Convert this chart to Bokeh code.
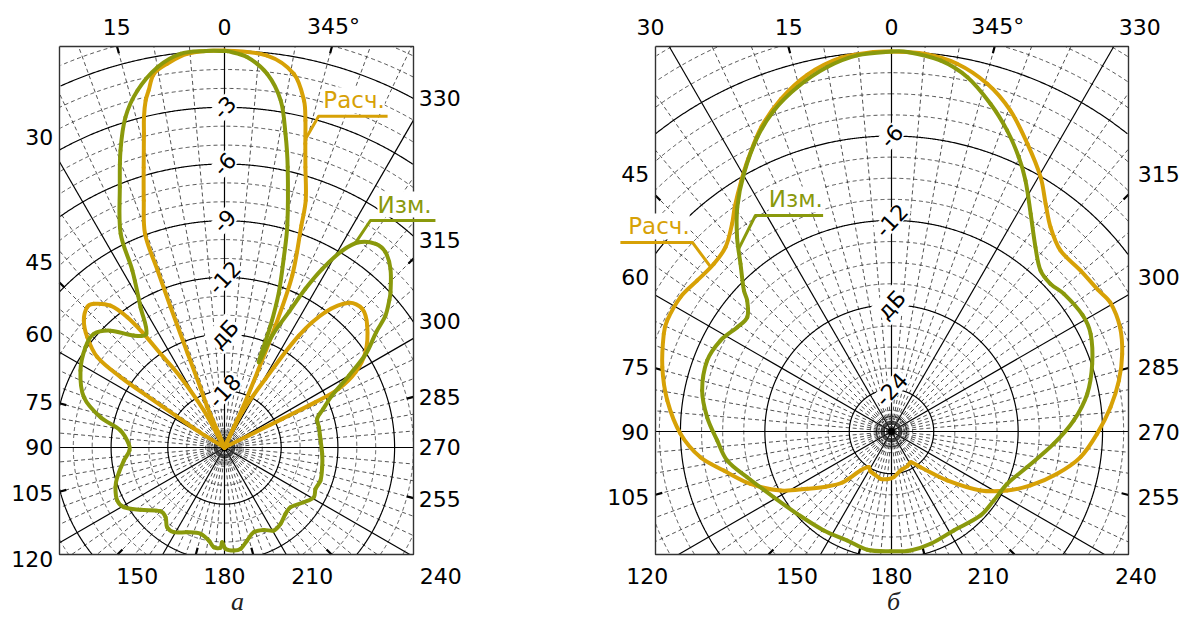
import numpy as np
from bokeh.plotting import figure
from bokeh.layouts import row
from bokeh.models import Range1d
from bokeh.core.properties import value
from bokeh.embed import file_html
from bokeh.resources import INLINE

ORANGE = "#D7A106"
OLIVE = "#8A990C"
FONT = "DejaVu Sans"

# ---------------- panel а : angle (deg, counter-clockwise from 0 at top), level (dB)
calc_a_deg = [0, 5.4, 8.5, 10.7, 12.0, 12.8, 13.7, 14.4, 16.1, 18.1, 20.4, 20.7, 21.0, 21.4,
              21.9, 23.0, 25.5, 29.2, 32.0, 34.3, 35.4, 36.7, 38.8, 42.3, 44.4, 47.9, 51.2,
              54.6, 55.9, 56.4, 57.0, 58.5, 60.0, 90, 120, 150, 180, 210, 240, 270, 295.5,
              296.3, 296.4, 296.5, 297.2, 299.9, 304.1, 310.5, 315.2, 319.3, 323.3, 326.4,
              329.2, 333.4, 334.5, 335.4, 336.5, 337.3, 338.5, 340.9, 341.8, 343.9, 345.1,
              346.1, 347.1, 349.5, 353.8, 360]
calc_a_db = [0.0, -0.07, -0.47, -0.88, -1.69, -2.17, -3.01, -3.86, -5.58, -7.25, -8.94, -10.98,
             -13.05, -15.67, -17.57, -18.68, -21.0, -18.76, -16.6, -15.0, -13.62, -12.4, -11.37,
             -10.72, -10.61, -10.97, -11.68, -12.74, -14.36, -16.26, -18.0, -19.5, -21.0, -21.0,
             -21.0, -21.0, -21.0, -21.0, -21.0, -21.0, -21.0, -19.57, -17.59, -15.62, -14.2,
             -13.0, -11.99, -11.07, -10.66, -10.9, -12.07, -13.89, -16.77, -18.9, -21.0, -18.75,
             -16.46, -14.0, -11.22, -8.57, -7.24, -5.56, -4.37, -3.18, -2.16, -0.89, -0.14, 0.0]

meas_a_deg = [0, 2.7, 6.4, 10.0, 13.7, 16.7, 19.3, 21.9, 25.9, 27.5, 30.9, 34.5, 39.0, 44.3,
              49.0, 54.2, 61.9, 70.3, 76.3, 80.7, 87.8, 91.8, 97.4, 105.5, 110.0, 116.3, 120.7,
              126.6, 134.9, 139.8, 144.3, 149.1, 156.2, 164.5, 170.4, 173.9, 177.7, 178.6,
              180.6, 185.2, 189.0, 193.7, 199.1, 205.5, 210.7, 216.3, 222.6, 227.9, 235.4,
              240.9, 245.6, 251.0, 258.6, 266.3, 274.2, 282.1, 287.2, 291.3, 295.7, 300.0,
              303.6, 307.3, 309.3, 311.8, 313.1, 317.1, 320.5, 323.4, 326.8, 329.1, 331.3,
              333.0, 334.6, 336.9, 338.1, 339.3, 340.7, 342.6, 344.2, 347.3, 349.0, 350.8,
              353.5, 356.7, 359.6, 360]
meas_a_db = [-0.02, 0.0, -0.04, -0.57, -1.56, -2.76, -4.35, -6.15, -8.42, -10.44, -12.35, -13.7,
             -13.38, -12.36, -11.84, -11.93, -12.36, -13.1, -14.25, -15.42, -15.93, -15.97,
             -15.63, -15.11, -14.86, -14.67, -14.81, -15.47, -16.22, -16.17, -15.8, -15.78,
             -16.1, -16.26, -16.01, -15.69, -15.69, -15.99, -15.64, -15.53, -15.57, -15.94,
             -16.26, -16.17, -15.89, -15.99, -16.23, -16.29, -15.9, -15.59, -15.71, -15.63,
             -15.73, -15.82, -15.9, -15.89, -15.87, -15.4, -14.7, -13.4, -12.0, -10.9, -10.0,
             -9.3, -8.97, -8.1, -7.61, -7.58, -8.02, -8.86, -10.22, -11.57, -13.07, -14.56,
             -16.14, -14.1, -12.3, -10.53, -8.79, -5.79, -4.09, -2.4, -1.1, -0.31, -0.03, -0.02]

# ---------------- panel б
calc_b_deg = [0, 2.7, 7.8, 13.3, 18.4, 23.1, 27.7, 31.0, 34.8, 37.5, 42.0, 46.7, 52.2, 57.5,
              63.7, 66.8, 74.3, 82.1, 90.6, 97.7, 103.1, 110.4, 118.0, 124.2, 130.0, 136.1,
              141.5, 147.5, 152.0, 157.3, 166.9, 175.0, 182.9, 193.0, 205.0, 211.8, 219.1,
              228.7, 236.5, 243.0, 248.8, 255.7, 262.3, 269.4, 276.3, 282.6, 288.6, 294.5,
              300.5, 304.4, 310.4, 317.0, 322.1, 325.9, 329.6, 334.7, 339.7, 344.6, 349.9,
              355.1, 360]
calc_b_db = [0.0, 0.0, -0.2, -0.95, -2.1, -3.45, -5.1, -6.25, -7.5, -8.39, -9.37, -9.64, -9.51,
             -9.22, -9.21, -9.39, -10.08, -10.91, -12.0, -13.3, -14.76, -16.31, -18.07, -19.76,
             -20.9, -21.97, -23.46, -24.0, -23.8, -23.74, -23.55, -23.6, -23.75, -24.16, -24.3,
             -24.43, -23.73, -21.73, -19.41, -17.77, -16.4, -14.85, -13.44, -12.38, -11.34,
             -10.44, -9.7, -9.15, -8.95, -9.2, -9.35, -9.4, -8.6, -7.46, -6.05, -4.39, -2.67,
             -1.37, -0.45, -0.06, 0.0]

meas_b_deg = [0, 5.2, 10.0, 15.3, 20.1, 24.5, 29.8, 34.5, 38.5, 42.0, 46.3, 47.8, 51.6, 55.9,
              62.0, 69.0, 77.8, 85.6, 93.0, 100.0, 107.6, 119.2, 131.1, 145.6, 157.9, 168.4,
              179.5, 189.1, 199.2, 212.2, 226.7, 236.0, 245.7, 255.3, 265.7, 273.5, 280.9,
              288.6, 296.1, 301.4, 308.6, 312.9, 317.2, 322.0, 327.4, 331.9, 335.1, 339.0,
              343.2, 347.9, 352.5, 357.6, 360]
meas_b_db = [0.0, -0.16, -0.7, -1.63, -2.7, -4.01, -5.89, -7.65, -9.37, -10.96, -12.49, -13.15,
             -13.92, -13.77, -13.23, -12.96, -13.23, -13.86, -14.6, -15.14, -16.24, -17.42,
             -18.1, -18.48, -18.64, -18.42, -18.49, -18.44, -18.55, -18.69, -18.3, -18.23,
             -17.97, -17.03, -15.43, -14.02, -12.83, -11.95, -11.24, -11.1, -11.32, -11.58,
             -11.41, -10.38, -8.64, -6.78, -5.51, -4.08, -2.67, -1.25, -0.4, 0.0, 0.0]

# ---------------- tick labels
a_top_labels = ["15", "0", "345°"]
a_left_labels = ["30", "45", "60", "75", "90", "105", "120"]
a_right_labels = ["330", "315", "300", "285", "270", "255"]
a_bottom_labels = ["150", "180", "210", "240"]
a_radial_labels = ["-3", "-6", "-9", "-12", "дБ", "-18"]
a_radial_levels = [-3, -6, -9, -12, -15, -18]

b_top_labels = ["30", "15", "0", "345°", "330"]
b_left_labels = ["45", "60", "75", "90", "105"]
b_right_labels = ["315", "300", "285", "270", "255"]
b_bottom_labels = ["120", "150", "180", "210", "240"]
b_radial_labels = ["-6", "-12", "дБ", "-24"]
b_radial_levels = [-6, -12, -18, -24]

# ---------------- layout of each panel (pixels inside its own figure)
panel_a = dict(size=(590, 617), center=(224, 447), px_per_db=18.9, floor=-21.0,
               frame=(59, 46, 413, 554), major=3.0, minor=1.0,
               top=([116.3, 224, 333], 26.3), left=(52.7, [136, 261.7, 333.3, 401.7, 446.7, 492.7, 558.3]),
               right=(418.3, [97.3, 239.3, 320, 396.7, 446.7, 498.3]),
               bottom=([136.7, 224, 311.7, 440.3], 575), caption=("а", 237, 601),
               rings=[5.7, 7.7, 10.0, 12.7], dot=3.3)
panel_b = dict(size=(591, 617), center=(301, 431), px_per_db=14.07, floor=-27.0,
               frame=(65, 46, 538, 554), major=6.0, minor=1.5,
               top=([60, 198.3, 301, 407.2, 549.2], 26.3), left=(58.7, [173.3, 276.7, 366.7, 431, 496.7]),
               right=(547.3, [173.3, 276.7, 366.7, 431, 496.7]),
               bottom=([56.8, 206.4, 301, 397.7, 545.5], 575), caption=("б", 303, 601),
               rings=[4.7, 7.3, 10.0, 12.7, 15.0], dot=2.7)

RADIAL_LABEL_ANGLE = np.radians(47)


def split_runs(x, y):
    ok = ~np.isnan(x)
    edges = np.flatnonzero(np.diff(np.concatenate([[0], ok.astype(int), [0]])))
    xs, ys = [], []
    for a, b in zip(edges[::2], edges[1::2]):
        if b - a > 1:
            xs.append(x[a:b].tolist())
            ys.append(y[a:b].tolist())
    return xs, ys


def polar(deg, db, floor):
    t = np.radians(np.asarray(deg, dtype=float))
    rho = np.clip(np.asarray(db, dtype=float) - floor, 0, None)
    return -rho * np.sin(t), rho * np.cos(t)


def smooth_closed(p, x, y, color, width):
    """Draw a closed pattern through its points with chord-scaled cubic segments."""
    P = np.column_stack([x, y])[:-1]
    P0 = np.roll(P, 1, axis=0)
    P2 = np.roll(P, -1, axis=0)
    P3 = np.roll(P, -2, axis=0)
    d01 = np.hypot(*(P - P0).T)
    d12 = np.hypot(*(P2 - P).T)
    d23 = np.hypot(*(P3 - P2).T)
    T1 = (P2 - P0) / np.maximum(d01 + d12, 1e-9)[:, None]
    T2 = (P3 - P) / np.maximum(d12 + d23, 1e-9)[:, None]
    C1 = P + T1 * (d12 / 3)[:, None]
    C2 = P2 - T2 * (d12 / 3)[:, None]
    p.bezier(x0=P[:, 0], y0=P[:, 1], x1=P2[:, 0], y1=P2[:, 1],
             cx0=C1[:, 0], cy0=C1[:, 1], cx1=C2[:, 0], cy1=C2[:, 1],
             line_color=color, line_width=width, line_cap="round")


def make_panel(cfg, calc, meas, top_l, left_l, right_l, bottom_l, rad_l, rad_v, leaders):
    W, H = cfg["size"]
    cx, cy = cfg["center"]
    s = cfg["px_per_db"]
    floor = cfg["floor"]

    def d(px, py):
        return (px - cx) / s, (cy - py) / s

    p = figure(width=W, height=H, x_range=Range1d(-cx / s, (W - cx) / s),
               y_range=Range1d((cy - H) / s, cy / s), x_axis_type=None, y_axis_type=None,
               output_backend="svg", toolbar_location=None, min_border=0,
               outline_line_color=None, background_fill_color="white",
               border_fill_color="white")

    x0, y0, x1, y1 = cfg["frame"]
    fl, ft = d(x0, y0)
    fr, fb = d(x1, y1)

    # circles of constant level
    t = np.radians(np.arange(0, 360.001, 0.2))
    corner = max(np.hypot(fl, ft), np.hypot(fr, ft), np.hypot(fl, fb), np.hypot(fr, fb))
    n = int(corner / cfg["minor"]) + 1
    maj_x, maj_y, min_x, min_y = [], [], [], []
    for k in range(1, n + 1):
        rho = k * cfg["minor"]
        x = -rho * np.sin(t)
        y = rho * np.cos(t)
        out = (x < fl) | (x > fr) | (y < fb) | (y > ft)
        x[out] = np.nan
        y[out] = np.nan
        xs, ys = split_runs(x, y)
        level = floor + rho
        if abs(level / cfg["major"] - round(level / cfg["major"])) < 1e-6:
            maj_x += xs
            maj_y += ys
        else:
            min_x += xs
            min_y += ys

    # radial lines
    ray_sx, ray_sy, ray_dx, ray_dy, tick_x, tick_y = [], [], [], [], [], []
    tick_len = 7.0 / s
    for a in range(0, 360, 5):
        ux, uy = -np.sin(np.radians(a)), np.cos(np.radians(a))
        ts = []
        if ux < -1e-9: ts.append(fl / ux)
        if ux > 1e-9: ts.append(fr / ux)
        if uy > 1e-9: ts.append(ft / uy)
        if uy < -1e-9: ts.append(fb / uy)
        tm = min(ts)
        seg_x, seg_y = [0, tm * ux], [0, tm * uy]
        if a % 30 == 0:
            ray_sx.append(seg_x); ray_sy.append(seg_y)
        else:
            ray_dx.append(seg_x); ray_dy.append(seg_y)
            if a % 15 == 0:
                tick_x.append([(tm - tick_len) * ux, tm * ux])
                tick_y.append([(tm - tick_len) * uy, tm * uy])

    p.multi_line(min_x, min_y, line_color="#1a1a1a", line_width=0.75, line_dash="4 3")
    p.multi_line(ray_dx, ray_dy, line_color="#1a1a1a", line_width=0.75, line_dash="4 3")
    p.multi_line(maj_x, maj_y, line_color="black", line_width=1.2)
    p.multi_line(ray_sx, ray_sy, line_color="black", line_width=1.2)
    p.multi_line(tick_x, tick_y, line_color="black", line_width=2.2)

    # small rings round the pole
    for rpx in cfg["rings"]:
        r = rpx / s
        p.line(-r * np.sin(t), r * np.cos(t), line_color="#333333", line_width=1.4,
               line_dash="3 1")
    p.scatter([0], [0], size=2 * cfg["dot"], color="black")

    # frame
    p.line([fl, fr, fr, fl, fl], [ft, ft, fb, fb, ft], line_color="#333333", line_width=1.4)

    # level labels along the 0 deg line
    rx = [0.0] * len(rad_v)
    ry = [v - floor for v in rad_v]
    p.text(rx, ry, text=rad_l, angle=RADIAL_LABEL_ANGLE, text_align="center",
           text_baseline="middle", text_font=value(FONT), text_font_size="22px",
           text_color="black", background_fill_color="white", padding=1)

    # patterns
    cxs, cys = polar(calc[0], calc[1], floor)
    mxs, mys = polar(meas[0], meas[1], floor)
    smooth_closed(p, cxs, cys, ORANGE, 4)
    smooth_closed(p, mxs, mys, OLIVE, 4)

    # callouts: text first (white box), then the leader on top of it
    for (deg, db, at, ex, ey, length, tx, ty, label, color, align) in leaders:
        lev = float(np.interp(at, deg, db))
        ax, ay = polar([at], [lev], floor)
        ax, ay = ax[0], ay[0]
        bx, by = ax + ex / s, ay - ey / s
        p.text([bx + tx / s], [by - ty / s], text=[label], text_align=align,
               text_baseline="bottom", text_font=value(FONT), text_font_size="23px",
               text_color=color, background_fill_color="white", padding=0)
        p.line([ax, bx, bx + length / s], [ay, by, by], line_color=color, line_width=3,
               line_join="round")

    # angle labels
    def put(labels, pts, align):
        xs = [d(px, py)[0] for px, py in pts]
        ys = [d(px, py)[1] for px, py in pts]
        p.text(xs, ys, text=labels, text_align=align, text_baseline="middle",
               text_font=value(FONT), text_font_size="22px", text_color="black")

    tx_, ty_ = cfg["top"]
    put(top_l, [(x, ty_) for x in tx_], "center")
    lx, lys = cfg["left"]
    put(left_l, [(lx, y) for y in lys], "right")
    rx_, rys = cfg["right"]
    put(right_l, [(rx_, y) for y in rys], "left")
    bxs, by_ = cfg["bottom"]
    put(bottom_l, [(x, by_) for x in bxs], "center")

    cap, capx, capy = cfg["caption"]
    qx, qy = d(capx, capy)
    p.text([qx], [qy], text=[cap], text_align="center", text_baseline="middle",
           text_font=value("Liberation Serif"), text_font_style="italic",
           text_font_size="26px", text_color="#222222")
    return p


leaders_a = [
    (calc_a_deg, calc_a_db, 345.3, 13.2, -22.9, 69, 4.7, -3.0, "Расч.", ORANGE, "left"),
    (meas_a_deg, meas_a_db, 327.4, 16.0, -23.8, 65, 7.0, -3.0, "Изм.", OLIVE, "left"),
]
leaders_b = [
    (calc_b_deg, calc_b_db, 47.7, -18.2, -24.5, -72, -2.7, -3.0, "Расч.", ORANGE, "right"),
    (meas_b_deg, meas_b_db, 40.1, 17.1, -34.1, 67.7, 13.3, -3.0, "Изм.", OLIVE, "left"),
]

pa = make_panel(panel_a, (calc_a_deg, calc_a_db), (meas_a_deg, meas_a_db), a_top_labels,
                a_left_labels, a_right_labels, a_bottom_labels, a_radial_labels,
                a_radial_levels, leaders_a)
pb = make_panel(panel_b, (calc_b_deg, calc_b_db), (meas_b_deg, meas_b_db), b_top_labels,
                b_left_labels, b_right_labels, b_bottom_labels, b_radial_labels,
                b_radial_levels, leaders_b)

layout = row(pa, pb)
open("out.html", "w").write(file_html(layout, INLINE))
